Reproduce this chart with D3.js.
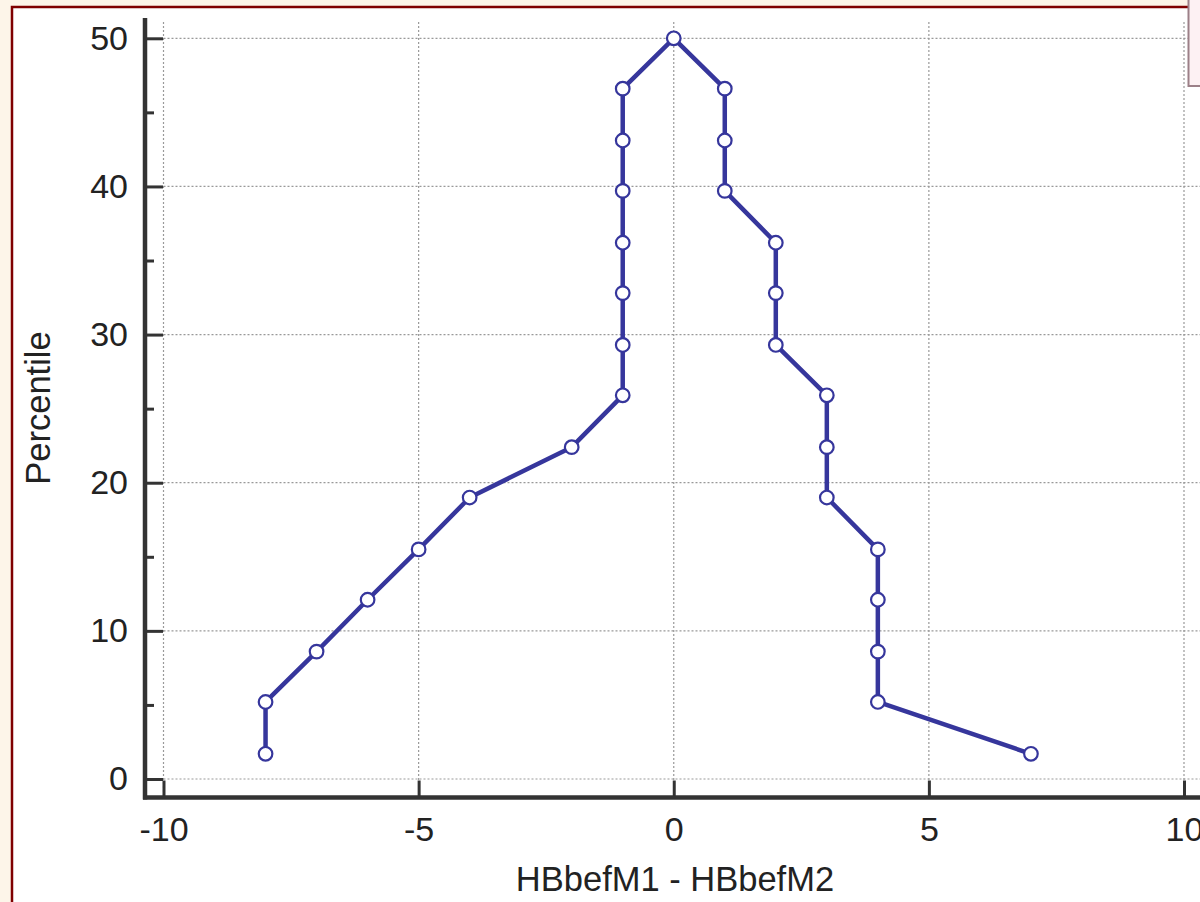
<!DOCTYPE html>
<html lang="en">
<head>
<meta charset="UTF-8">
<title>Mountain plot</title>
<script src="https://d3js.org/d3.v7.min.js"></script>
<style>
  body { margin: 0; background: #fdf5e9; }
  svg { display: block; font-family: "Liberation Sans", Arial, sans-serif; }
</style>
</head>
<body>
<div id="chart"></div>
<script>
// sorted differences (HBbefM1 - HBbefM2) and their folded percentiles
const diffs = [-8, -8, -7, -6, -5, -4, -2, -1, -1, -1, -1, -1, -1, -1, 0,
               1, 1, 1, 2, 2, 2, 3, 3, 3, 4, 4, 4, 4, 7];
const percentiles = [1.7, 5.2, 8.6, 12.1, 15.5, 19.0, 22.4, 25.9, 29.3, 32.8, 36.2, 39.7, 43.1, 46.6, 50,
                     46.6, 43.1, 39.7, 36.2, 32.8, 29.3, 25.9, 22.4, 19.0, 15.5, 12.1, 8.6, 5.2, 1.7];
const xTicks = [-10, -5, 0, 5, 10];
const yTicks = [0, 10, 20, 30, 40, 50];
const yMinorTicks = [5, 15, 25, 35, 45];
const xTitle = "HBbefM1 - HBbefM2";
const yTitle = "Percentile";

const width = 1200, height = 902;
const lineColor = "#36369c";
const axisColor = "#333";

const x = d3.scaleLinear().domain([-10, 10]).range([163.5, 1184]);
const y = d3.scaleLinear().domain([0, 50]).range([779, 38.3]);

const axisX = 145, axisY = 797.5;
const plotTop = 22;

const svg = d3.select("#chart").append("svg")
    .attr("width", width)
    .attr("height", height)
    .attr("viewBox", [0, 0, width, height]);

// page background and chart panel
svg.append("rect").attr("width", width).attr("height", height).attr("fill", "#fdf5e9");
svg.append("rect")
    .attr("x", 12).attr("y", 7)
    .attr("width", width + 20).attr("height", height + 20)
    .attr("fill", "#fff")
    .attr("stroke", "#7f0000")
    .attr("stroke-width", 2.5);

// grid
const grid = svg.append("g")
    .attr("stroke", "#999")
    .attr("stroke-width", 1.2)
    .attr("stroke-dasharray", "2,2");
grid.selectAll(".gx").data(xTicks).join("line")
    .attr("x1", d => x(d)).attr("x2", d => x(d))
    .attr("y1", plotTop).attr("y2", axisY);
grid.selectAll(".gy").data(yTicks).join("line")
    .attr("y1", d => y(d)).attr("y2", d => y(d))
    .attr("x1", x(-10)).attr("x2", width);

// y axis
const yAxis = svg.append("g")
    .attr("transform", `translate(${axisX},0)`)
    .call(d3.axisLeft(y).tickValues(yTicks).tickSize(-18).tickPadding(17).tickFormat(d3.format("d")))
    .call(g => g.select(".domain").remove());
yAxis.selectAll("line").attr("stroke", axisColor).attr("stroke-width", 3);
yAxis.selectAll("text").attr("font-size", 34).attr("fill", "#222").attr("font-family", null);

const yMinor = svg.append("g")
    .attr("transform", `translate(${axisX},0)`)
    .call(d3.axisLeft(y).tickValues(yMinorTicks).tickSize(-9).tickFormat(""))
    .call(g => g.select(".domain").remove());
yMinor.selectAll("line").attr("stroke", axisColor).attr("stroke-width", 3);

// x axis
const xAxis = svg.append("g")
    .attr("transform", `translate(0,${axisY})`)
    .call(d3.axisBottom(x).tickValues(xTicks).tickSize(-17).tickPadding(19).tickFormat(d3.format("d")))
    .call(g => g.select(".domain").remove());
xAxis.selectAll("line").attr("stroke", axisColor).attr("stroke-width", 3);
xAxis.selectAll("text").attr("font-size", 34).attr("fill", "#222").attr("font-family", null)
    .text(d => d < 0 ? "-" + Math.abs(d) : d);

// axis lines
svg.append("line")
    .attr("x1", axisX).attr("x2", axisX)
    .attr("y1", 18).attr("y2", axisY + 2)
    .attr("stroke", axisColor).attr("stroke-width", 4.5);
svg.append("line")
    .attr("x1", axisX - 2).attr("x2", width)
    .attr("y1", axisY).attr("y2", axisY)
    .attr("stroke", axisColor).attr("stroke-width", 4.5);

// axis titles
svg.append("text")
    .attr("transform", `translate(50,408) rotate(-90)`)
    .attr("text-anchor", "middle")
    .attr("font-size", 34.5)
    .attr("fill", "#222")
    .text(yTitle);
svg.append("text")
    .attr("x", 675).attr("y", 891)
    .attr("text-anchor", "middle")
    .attr("font-size", 34.5)
    .attr("fill", "#222")
    .text(xTitle);

// mountain line
const points = diffs.map((d, i) => ({x: d, p: percentiles[i]}));
svg.append("path")
    .datum(points)
    .attr("fill", "none")
    .attr("stroke", lineColor)
    .attr("stroke-width", 4.5)
    .attr("stroke-linejoin", "round")
    .attr("d", d3.line().x(d => x(d.x)).y(d => y(d.p)));

svg.append("g")
    .selectAll("circle")
    .data(points)
    .join("circle")
    .attr("cx", d => x(d.x))
    .attr("cy", d => y(d.p))
    .attr("r", 6.8)
    .attr("fill", "#fff")
    .attr("stroke", lineColor)
    .attr("stroke-width", 2.2);

// clipped legend box at the top right
svg.append("rect")
    .attr("x", 1188.5).attr("y", -3)
    .attr("width", 30).attr("height", 89)
    .attr("fill", "#fdf1f3")
    .attr("stroke", "#9c8088")
    .attr("stroke-width", 2);
</script>
</body>
</html>
